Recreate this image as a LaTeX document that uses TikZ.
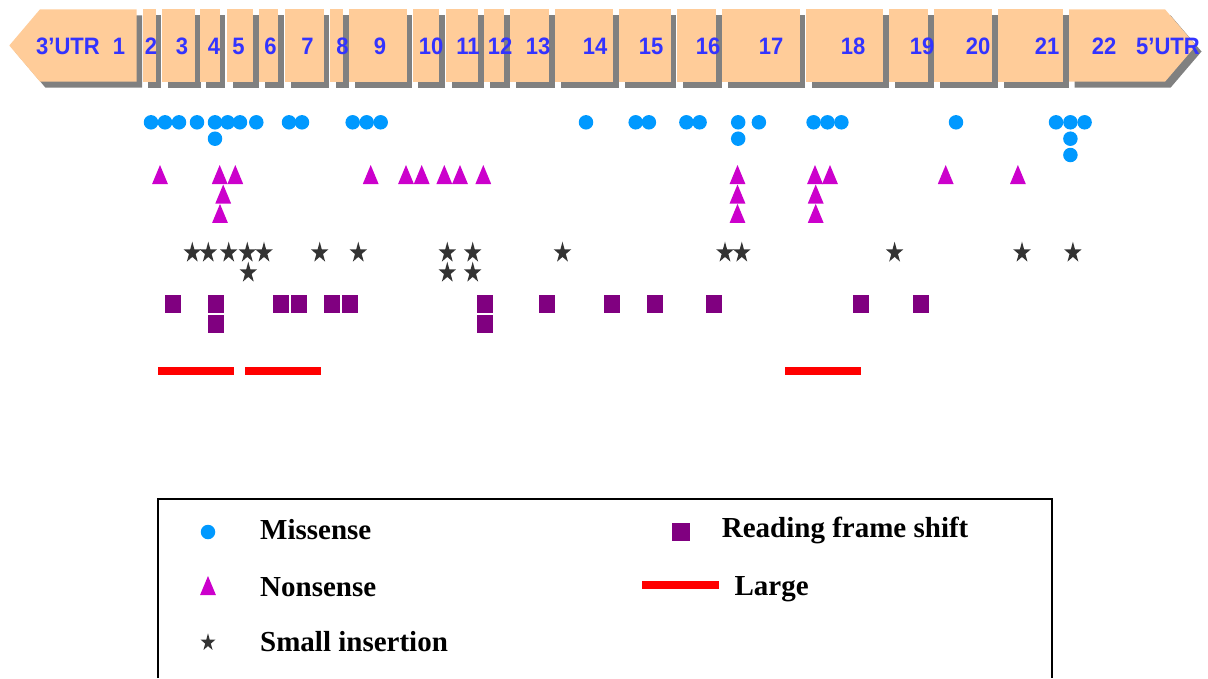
\documentclass[tikz,border=0pt]{standalone}
\usepackage{fontspec}
\setmainfont{Liberation Serif}
\newfontfamily\arialf{Liberation Sans}
\definecolor{peach}{HTML}{FFCC99}
\definecolor{shadowgray}{HTML}{808080}
\definecolor{labelblue}{HTML}{3333FF}
\definecolor{misblue}{HTML}{0099FF}
\definecolor{nonmag}{HTML}{CC00CC}
\definecolor{stargray}{HTML}{333333}
\definecolor{rfspurple}{HTML}{800080}
\definecolor{largered}{HTML}{FF0000}
\begin{document}
\begin{tikzpicture}[x=1pt,y=-1pt,
  exlabel/.style={font=\arialf\bfseries\fontsize{22}{22}\selectfont, text=labelblue, inner sep=0pt, anchor=base, yscale=1.08, transform shape},
  legtext/.style={font=\bfseries\fontsize{29}{29}\selectfont, anchor=base west, inner sep=0pt},
  mis/.style={circle, fill=misblue, minimum size=14.5pt, inner sep=0pt},
  rfs/.style={rectangle, fill=rfspurple, minimum width=16pt, minimum height=17.7pt, inner sep=0pt},
  largebar/.style={draw=largered, line width=8pt},
  tri/.pic={\fill[nonmag] (-7.9,9.5) -- (0,-9.5) -- (7.9,9.5) -- cycle;},
  starm/.pic={\fill[stargray] (-90:9.24 and 11) -- (-54:3.53 and 4.2) -- (-18:9.24 and 11) -- (18:3.53 and 4.2) -- (54:9.24 and 11) -- (90:3.53 and 4.2) -- (126:9.24 and 11) -- (162:3.53 and 4.2) -- (198:9.24 and 11) -- (234:3.53 and 4.2) -- cycle;},
]
\useasboundingbox (0,0) rectangle (1208,678);
% exon shadows
\fill[shadowgray] (9.3+5.5,45.5+6) -- (40+5.5,9.3+6) -- (136.7+5.5,9.3+6) -- (136.7+5.5,81.7+6) -- (40+5.5,81.7+6) -- cycle;
\fill[shadowgray] (1069+5.5,9.3+6) -- (1165+5.5,9.3+6) -- (1196+5.5,45.5+6) -- (1165+5.5,81.7+6) -- (1069+5.5,81.7+6) -- cycle;
\foreach \a/\b in {142.7/155.7, 162/195, 200/219.7, 227/253, 259/278, 285/323.7, 330/343, 349/406.7, 412.7/439, 446/478, 484/504, 510/549, 555/613, 619/670.7, 677/716, 722/799.5, 806/883, 889/928, 934/992, 998/1063}
  {\fill[shadowgray] (\a+5.5,15.3) rectangle (\b+5.5,87.7);}
% exon boxes
\fill[peach] (9.3,45.5) -- (40,9.3) -- (136.7,9.3) -- (136.7,81.7) -- (40,81.7) -- cycle;
\fill[peach] (1069,9.3) -- (1165,9.3) -- (1196,45.5) -- (1165,81.7) -- (1069,81.7) -- cycle;
\foreach \a/\b in {142.7/155.7, 162/195, 200/219.7, 227/253, 259/278, 285/323.7, 330/343, 349/406.7, 412.7/439, 446/478, 484/504, 510/549, 555/613, 619/670.7, 677/716, 722/799.5, 806/883, 889/928, 934/992, 998/1063}
  {\fill[peach] (\a,9.3) rectangle (\b,81.7);}
% exon labels
\node[exlabel] (utr3) at (68,54.3) {3’UTR};
\node[exlabel] (utr5) at (1168,54.3) {5’UTR};
\foreach \n/\x in {1/119, 2/151, 3/182, 4/214, 5/238.5, 6/270.5, 7/307.5, 8/342.5, 9/380, 10/431, 11/468, 12/500, 13/538, 14/595, 15/651, 16/708, 17/771, 18/853, 19/922, 20/978, 21/1047, 22/1104}
  {\node[exlabel] (ex\n) at (\x,54.3) {\n};}
% missense
\foreach \x [count=\i] in {151,165,179,197,215,227.7,240,256.3,289,302,352.7,366.7,380.7,586,635.7,648.9,686.4,699.6,738.2,758.9,813.6,827.5,841.4,956,1056,1070.4,1084.6}
  {\node[mis] (misA\i) at (\x,122.3) {};}
\foreach \x [count=\i] in {215,738.2,1070.4}
  {\node[mis] (misB\i) at (\x,138.7) {};}
\node[mis] (misC1) at (1070.4,155) {};
% nonsense
\foreach \x [count=\i] in {160,219.7,235.3,370.7,406,421.7,444.3,460,483.3,737.5,815,830,945.7,1017.9}
  {\pic (nonA\i) at (\x,174.5) {tri};}
\foreach \x [count=\i] in {223.2,737.5,815.7}
  {\pic (nonB\i) at (\x,194) {tri};}
\foreach \x [count=\i] in {220,737.5,815.7}
  {\pic (nonC\i) at (\x,213.4) {tri};}
% small insertion
\foreach \x [count=\i] in {192.3,208.3,228.7,247.3,264,319.7,358.3,447.3,472.7,562.5,725,741.8,894.6,1022,1072.9}
  {\pic (insA\i) at (\x,252.7) {starm};}
\foreach \x [count=\i] in {248.3,447.3,472.7}
  {\pic (insB\i) at (\x,272.7) {starm};}
% reading frame shift
\foreach \x [count=\i] in {173,216,281,299,332,350,485,546.5,611.8,655,713.9,860.7,920.7}
  {\node[rfs] (rfsA\i) at (\x,304) {};}
\foreach \x [count=\i] in {216,485}
  {\node[rfs] (rfsB\i) at (\x,324) {};}
% large
\draw[largebar] (158,371) -- (233.6,371);
\draw[largebar] (245.2,371) -- (320.8,371);
\draw[largebar] (785.2,371) -- (861.3,371);
% legend
\draw[line width=2pt] (158,678) |- (1052,499.3) -- (1052,678);
\node[mis] (lmis) at (208,532) {};
\node[legtext] (tmis) at (260,539) {Missense};
\pic (lnon) at (208,585.5) {tri};
\node[legtext] (tnon) at (260,596) {Nonsense};
\pic[scale=0.84] (lins) at (208,642.5) {starm};
\node[legtext] (tins) at (260,651) {Small insertion};
\node[rfs, minimum width=17.4pt, minimum height=18.3pt] (lrfs) at (681,532.3) {};
\node[legtext] (trfs) at (721.7,537.7) {Reading frame shift};
\draw[largebar] (642,584.7) -- (718.8,584.7);
\node[legtext] (tlarge) at (734.4,595) {Large};
\end{tikzpicture}
\end{document}
